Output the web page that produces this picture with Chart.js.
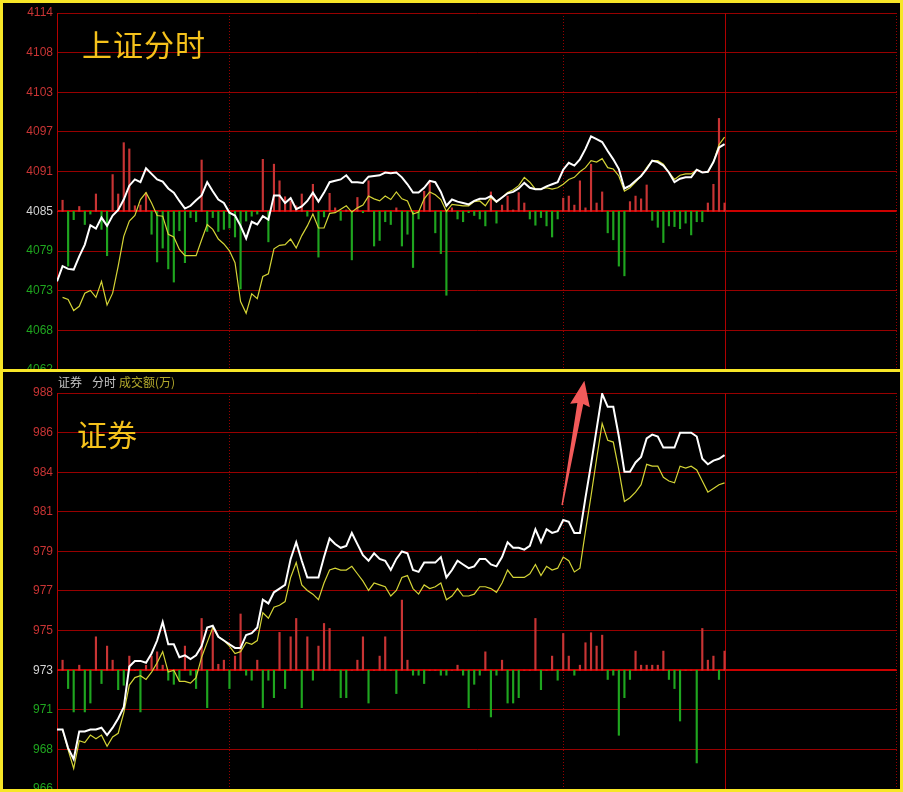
<!DOCTYPE html>
<html>
<head>
<meta charset="utf-8">
<title>上证分时 / 证券</title>
<script src="https://cdn.jsdelivr.net/npm/chart.js@4.4.1/dist/chart.umd.min.js"></script>
<style>
  html, body { margin: 0; padding: 0; background: #000; }
  #page { position: relative; width: 903px; height: 792px; background: #000; overflow: hidden; }
  .panel { position: absolute; left: 3px; width: 897px; }
  .panel canvas { display: block; }
  #top-panel { top: 3px; height: 367px; }
  #bottom-panel { top: 372px; height: 417px; }
  .frame { position: absolute; left: 0; top: 0; width: 903px; height: 792px; box-sizing: border-box;
           border: 3px solid #f7e627; pointer-events: none; z-index: 5; }
  .divider { position: absolute; left: 0; top: 369px; width: 903px; height: 3px; background: #f7e627; z-index: 5; }
  .big-title { position: absolute; font-family: "Noto Sans CJK SC", sans-serif; font-size: 30px;
               line-height: 30px; color: #f5c21b; z-index: 4; white-space: nowrap; }
  .sub-header { position: absolute; top: 375px; font: 12px "Noto Sans CJK SC", sans-serif;
                line-height: 14px; z-index: 4; color: #c4c4c4; white-space: nowrap; }
</style>
</head>
<body>
<div id="page">
  <div class="panel" id="top-panel"><canvas id="sh-chart" width="897" height="367"></canvas></div>
  <div class="panel" id="bottom-panel"><canvas id="zq-chart" width="897" height="417"></canvas></div>
  <div class="big-title" style="left:82px; top:28px; letter-spacing:1px;">上证分时</div>
  <div class="big-title" style="left:77px; top:418px;">证券</div>
  <div class="sub-header" style="left:58px;">证券</div>
  <div class="sub-header" style="left:92px;">分时</div>
  <div class="sub-header" style="left:119px; color:#b3a92c;">成交额(万)</div>
  <div class="divider"></div>
  <div class="frame"></div>
</div>

<script>
// Shanghai composite, one value per minute slot (0..120)
const shPrice = [
  4075.3, 4077.5, 4077.1, 4077.0, 4078.9, 4080.6, 4083.4, 4082.9, 4084.5, 4083.3,
  4084.8, 4085.6, 4087.1, 4089.1, 4090.0, 4089.6, 4091.6, 4090.8, 4090.0, 4089.7,
  4088.7, 4088.1, 4086.9, 4085.8, 4086.2, 4087.0, 4087.7, 4089.6, 4088.3, 4087.1,
  4086.6, 4085.2, 4084.8, 4083.3, 4081.5, 4083.9, 4083.5, 4084.7, 4084.2, 4087.7,
  4087.7, 4086.6, 4087.3, 4085.7, 4086.1, 4086.9, 4088.1, 4086.8, 4088.1, 4089.6,
  4089.8, 4090.0, 4090.6, 4089.6, 4089.6, 4089.5, 4090.4, 4090.5, 4090.6, 4091.0,
  4090.9, 4091.0, 4090.3, 4089.3, 4088.1, 4088.1, 4088.8, 4089.8, 4089.6, 4088.2,
  4086.2, 4087.1, 4086.8, 4086.6, 4086.4, 4086.9, 4087.2, 4087.2, 4087.6, 4086.8,
  4087.4, 4088.0, 4088.2, 4088.7, 4089.5, 4088.8, 4088.6, 4088.6, 4089.0, 4089.3,
  4089.6, 4091.4, 4092.4, 4092.0, 4092.9, 4094.4, 4096.2, 4095.8, 4095.4, 4094.1,
  4092.9, 4091.5, 4088.7, 4089.1, 4089.8, 4090.5, 4091.5, 4092.7, 4092.5, 4092.0,
  4091.0, 4089.6, 4090.1, 4090.3, 4090.3, 4091.4, 4091.0, 4091.1, 4092.5, 4094.6,
  4095.1
];
const shAvg = [
  null,   4073.0, 4072.7, 4071.1, 4071.7, 4073.6, 4074.0, 4073.0, 4075.3, 4071.9,
  4073.6, 4077.5, 4081.8, 4084.0, 4084.8, 4087.1, 4088.1, 4086.6, 4084.8, 4084.7,
  4082.1, 4081.7, 4079.9, 4079.0, 4079.0, 4079.0, 4081.3, 4083.5, 4082.8, 4081.4,
  4080.7, 4079.7, 4078.0, 4072.4, 4070.7, 4073.5, 4072.8, 4076.0, 4076.4, 4080.0,
  4080.5, 4080.6, 4081.4, 4080.1, 4081.9, 4083.3, 4085.0, 4083.0, 4083.0, 4085.1,
  4085.2, 4085.7, 4086.2, 4085.3, 4085.9, 4086.3, 4087.6, 4087.2, 4086.9, 4087.6,
  4087.1, 4088.2, 4087.2, 4086.9, 4085.0, 4085.3, 4087.2, 4088.2, 4087.8, 4087.1,
  4085.4, 4086.4, 4086.3, 4086.2, 4086.2, 4086.8, 4086.9, 4086.2, 4087.4, 4086.7,
  4087.4, 4088.1, 4088.5, 4089.1, 4090.3, 4089.6, 4088.6, 4088.6, 4088.8, 4088.6,
  4088.8, 4089.3, 4090.0, 4090.3, 4091.1, 4091.7, 4092.7, 4092.5, 4093.0, 4091.7,
  4091.5, 4090.5, 4088.3, 4088.8, 4089.6, 4090.5, 4091.7, 4092.7, 4092.7, 4092.2,
  4091.0, 4090.0, 4090.6, 4090.8, 4090.8, 4091.4, 4091.0, 4091.0, 4092.5, 4095.0,
  4096.1
];
// red/green strength bars, in index points away from the previous close
const shBars = [
  0, 1.6, -7.9, -1.2, 0.7, -1.9, -0.4, 2.5, -2.6, -6.4,
  5.3, 2.5, 9.9, 9.0, 0.8, 0.9, 2.7, -3.3, -7.3, -5.3,
  -8.3, -10.2, -2.8, -7.4, -0.9, -1.5, 7.4, -2.9, -0.9, -2.9,
  -2.6, -2.4, -3.7, -11.2, -1.4, -0.7, -0.4, 7.5, -4.4, 6.8,
  4.4, 2.1, 1.5, 0.8, 2.5, -0.7, 3.9, -6.6, -0.8, 2.6,
  0.5, -1.3, 0.2, -7.0, 2.0, -0.2, 4.4, -5.0, -4.2, -1.5,
  -1.9, 0.5, -5.0, -3.3, -8.1, -1.1, 2.9, 4.2, -3.1, -6.1,
  -12.1, 0.5, -1.1, -1.5, -0.2, -0.6, -1.1, -2.1, 2.8, -1.7,
  0.9, 2.2, 0.2, 2.7, 1.2, -1.1, -2.0, -0.9, -2.1, -3.7,
  -1.1, 1.9, 2.2, 0.9, 4.4, 0.5, 6.8, 1.2, 2.8, -3.1,
  -4.1, -7.9, -9.3, 1.4, 2.2, 1.8, 3.8, -1.3, -2.3, -4.5,
  -2.1, -2.2, -2.5, -1.7, -3.4, -1.5, -1.5, 1.2, 3.9, 13.4,
  1.2
];
const shTickLabels = ['4114', '4108', '4103', '4097', '4091', '4085', '4079', '4073', '4068', '4062'];
const shPrevClose = 4085.4;
const shStep = 5.72;

// 证券 sector index
const zqPrice = [
  970.0, 970.0, 969.0, 968.4, 969.9, 969.9, 970.0, 970.0, 970.1, 969.7,
  970.1, 970.6, 971.2, 973.4, 973.7, 973.7, 973.6, 974.1, 974.8, 975.8,
  974.6, 974.6, 973.9, 974.0, 973.8, 974.0, 974.5, 975.5, 975.6, 975.0,
  974.8, 974.6, 974.4, 974.4, 975.1, 975.2, 975.5, 977.0, 976.8, 977.4,
  977.6, 977.8, 979.2, 980.1, 979.1, 978.2, 978.2, 978.2, 979.3, 980.3,
  980.0, 979.8, 979.9, 980.6, 980.0, 979.4, 979.1, 979.5, 979.2, 979.1,
  978.6, 979.2, 979.6, 979.5, 978.6, 978.5, 979.0, 979.0, 979.0, 979.3,
  978.2, 978.6, 979.1, 978.9, 978.7, 978.8, 979.2, 979.2, 978.9, 978.8,
  979.3, 980.1, 979.8, 979.8, 979.7, 979.9, 980.8, 980.1, 980.8, 980.6,
  980.7, 981.3, 981.2, 980.6, 980.6, 982.5, 984.3, 986.2, 988.1, 987.4,
  987.4, 985.8, 983.9, 983.9, 984.4, 984.7, 985.7, 985.9, 985.8, 985.2,
  985.2, 985.2, 986.0, 986.0, 986.0, 985.8, 984.6, 984.3, 984.5, 984.6,
  984.8
];
const zqAvg = [
  null,  970.0, 968.9, 967.9, 969.4, 969.3, 969.7, 969.5, 969.7, 969.1,
  969.6, 969.8, 970.9, 972.4, 972.8, 972.9, 972.7, 973.1, 973.6, 974.2,
  973.1, 973.2, 972.6, 972.6, 972.5, 972.8, 973.9, 974.7, 975.5, 975.0,
  974.8, 974.5, 974.1, 974.2, 974.7, 974.6, 974.8, 976.3, 976.0, 976.6,
  976.7, 976.9, 978.2, 979.0, 977.8, 977.5, 977.3, 977.0, 977.9, 978.6,
  978.7, 978.6, 978.6, 978.8, 978.4, 978.0, 977.5, 977.9, 977.8, 977.7,
  977.2, 977.5, 978.2, 978.3, 977.6, 977.3, 977.8, 977.6, 977.7, 977.9,
  977.0, 977.2, 977.6, 977.2, 977.2, 977.3, 977.7, 977.7, 977.6, 977.4,
  977.9, 978.6, 978.2, 978.2, 978.2, 978.4, 978.9, 978.3, 978.8, 978.6,
  978.7, 979.3, 979.1, 978.5, 978.7, 980.7, 982.6, 984.6, 986.5, 985.6,
  985.5, 984.0, 982.3, 982.5, 982.8, 983.2, 984.3, 984.2, 984.2, 983.6,
  983.4, 983.3, 984.2, 984.1, 984.2, 984.0, 983.4, 982.8, 983.0, 983.2,
  983.3
];
const zqBars = [
  0, 0.54, -0.99, -2.25, 0.27, -2.25, -1.77, 1.8, -0.72, 1.3,
  0.54, -1.05, -0.81, 0.76, 0, -2.25, 0.27, 0.76, 0.99, 0.27,
  -0.54, -0.76, -0.54, 1.3, -0.27, -0.99, 2.79, -2.02, 2.25, 0.32,
  0.54, -0.99, 0.76, 3.03, -0.27, -0.54, 0.54, -2.02, -0.54, -1.48,
  2.04, -0.99, 1.8, 2.79, -2.02, 1.8, -0.54, 1.3, 2.52, 2.25,
  0, -1.48, -1.48, 0, 0.54, 1.8, -1.77, 0, 0.76, 1.8,
  0, -1.26, 3.78, 0.54, -0.27, -0.27, -0.72, 0, 0, -0.27,
  -0.27, 0, 0.27, -0.27, -2.02, -0.76, -0.27, 0.99, -2.52, -0.27,
  0.54, -1.77, -1.77, -1.48, 0, 0, 2.79, -1.05, 0, 0.76,
  -0.54, 1.98, 0.76, -0.27, 0.27, 1.48, 2.02, 1.3, 1.89, -0.5,
  -0.27, -3.51, -1.48, -0.5, 1.03, 0.27, 0.27, 0.27, 0.27, 1.03,
  -0.5, -0.99, -2.74, 0, 0, -5.0, 2.25, 0.54, 0.76, -0.5,
  1.03
];
const zqTickLabels = ['988', '986', '984', '981', '979', '977', '975', '973', '971', '968', '966'];
const zqPrevClose = 973.2;
const zqStep = 2.135;

// time axis: slots across the panel, dotted hour marks, current-time mark
const slotCount = 151;
const hourMarks = [31, 91, 151];
const nowMark = 120;

// the hand-drawn arrow on the lower panel: [slot, value]
const arrowFrom = [90.8, 982.1];
const arrowTo = [94.8, 988.8];

const RED = '#c83434';
const GREEN = '#1fa51f';

// vertical session lines
const sessionLines = {
  id: 'sessionLines',
  beforeDatasetsDraw(chart) {
    const { ctx, chartArea: a, scales: { x } } = chart;
    ctx.save();
    ctx.lineWidth = 1;
    ctx.strokeStyle = '#960000';
    ctx.setLineDash([1, 2]);
    hourMarks.forEach(m => {
      const px = Math.min(Math.round(x.getPixelForValue(m)), a.right - 1) + 0.5;
      ctx.beginPath();
      ctx.moveTo(px, a.top);
      ctx.lineTo(px, a.bottom);
      ctx.stroke();
    });
    ctx.setLineDash([]);
    ctx.strokeStyle = '#b00000';
    const nx = Math.round(x.getPixelForValue(nowMark)) + 0.5;
    ctx.beginPath();
    ctx.moveTo(nx, a.top);
    ctx.lineTo(nx, a.bottom);
    ctx.stroke();
    ctx.restore();
  }
};

// red arrow pointing at the breakout
const arrowNote = {
  id: 'arrowNote',
  afterDatasetsDraw(chart) {
    const { ctx, scales: { x, y } } = chart;
    const x0 = x.getPixelForValue(arrowFrom[0]), y0 = y.getPixelForValue(arrowFrom[1]);
    const x1 = x.getPixelForValue(arrowTo[0]), y1 = y.getPixelForValue(arrowTo[1]);
    const len = Math.hypot(x1 - x0, y1 - y0);
    const ux = (x1 - x0) / len, uy = (y1 - y0) / len;
    const nx = -uy, ny = ux;
    const neck = len - 25;
    const pt = (d, w) => [x0 + ux * d + nx * w, y0 + uy * d + ny * w];
    const poly = [pt(0, 0.7), pt(neck + 2, 3), pt(neck, 10), pt(len, 0), pt(neck, -10), pt(neck + 2, -3), pt(0, -0.7)];
    ctx.save();
    ctx.fillStyle = '#f25a5a';
    ctx.beginPath();
    poly.forEach((p, i) => i ? ctx.lineTo(p[0], p[1]) : ctx.moveTo(p[0], p[1]));
    ctx.closePath();
    ctx.fill();
    ctx.restore();
  }
};

function buildPanel(canvasId, p) {
  const top = p.prevClose + p.stepsAbove * p.step;
  const bottom = p.prevClose - (p.labels.length - 1 - p.stepsAbove) * p.step;
  const centre = p.stepsAbove;

  return new Chart(document.getElementById(canvasId), {
    type: 'line',
    data: {
      datasets: [
        {
          label: 'price',
          data: p.price.map((v, i) => ({ x: i, y: v })),
          borderColor: '#ffffff',
          borderWidth: 2,
          pointRadius: 0,
          tension: 0,
          order: 0
        },
        {
          label: 'average',
          data: p.avg.map((v, i) => ({ x: i, y: v })),
          borderColor: '#d4d436',
          borderWidth: 1.2,
          pointRadius: 0,
          tension: 0,
          order: 1
        },
        {
          type: 'bar',
          label: 'strength',
          data: p.bars.map((v, i) => ({ x: i, y: [p.prevClose, p.prevClose + v] })),
          backgroundColor: p.bars.map(v => v >= 0 ? RED : GREEN),
          barThickness: 1.5,
          order: 2
        }
      ]
    },
    options: {
      responsive: false,
      animation: false,
      events: [],
      layout: { padding: { top: p.padTop, right: 3, bottom: 0, left: 0 } },
      plugins: { legend: { display: false }, tooltip: { enabled: false } },
      scales: {
        x: {
          type: 'linear',
          display: false,
          min: 0,
          max: slotCount,
          offset: false,
          grid: { offset: false }
        },
        y: {
          type: 'linear',
          position: 'left',
          min: bottom,
          max: top,
          beginAtZero: false,
          afterBuildTicks: scale => {
            scale.ticks = p.labels.map((l, i) => ({ value: top - i * p.step }));
          },
          afterFit: scale => {
            scale.width = 54;
            scale.paddingTop = 0;
            scale.paddingBottom = 0;
          },
          ticks: {
            autoSkip: false,
            padding: 4,
            font: { family: '"Liberation Sans", Arial, sans-serif', size: 12 },
            color: ctx => ctx.index < centre ? RED : (ctx.index === centre ? '#d2d2d2' : GREEN),
            callback: (v, i) => p.labels[i]
          },
          grid: {
            drawTicks: false,
            color: ctx => ctx.index === centre ? '#cc0000' : '#980000',
            lineWidth: ctx => ctx.index === centre ? 2 : 1
          },
          border: { display: true, color: '#b40000', width: 1 }
        }
      }
    },
    plugins: p.extra ? [sessionLines, p.extra] : [sessionLines]
  });
}

buildPanel('sh-chart', {
  price: shPrice, avg: shAvg, bars: shBars, labels: shTickLabels,
  prevClose: shPrevClose, step: shStep, stepsAbove: 5, padTop: 10
});

buildPanel('zq-chart', {
  price: zqPrice, avg: zqAvg, bars: zqBars, labels: zqTickLabels,
  prevClose: zqPrevClose, step: zqStep, stepsAbove: 7, padTop: 21, extra: arrowNote
});
</script>
</body>
</html>
